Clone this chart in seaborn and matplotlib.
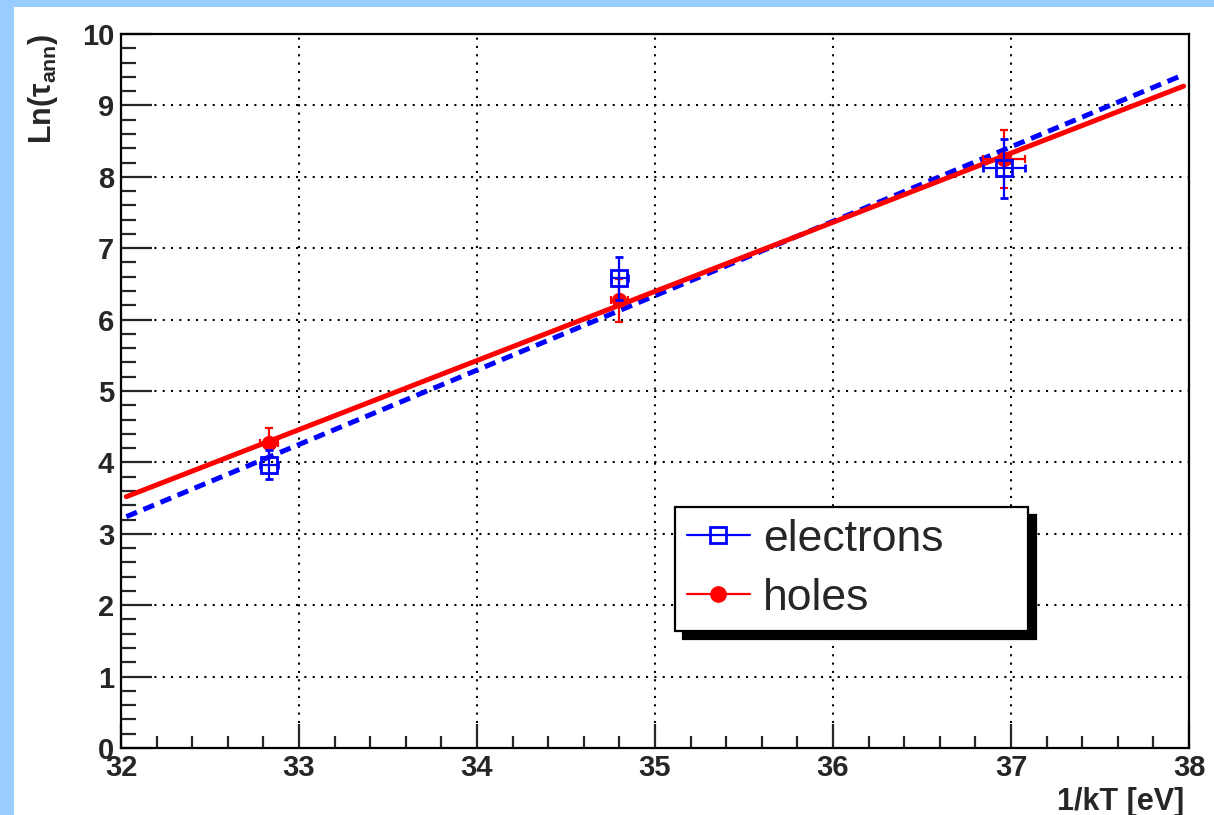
import numpy as np
import pandas as pd
import seaborn as sns
from matplotlib import pyplot as plt
from matplotlib.lines import Line2D
from matplotlib.patches import Rectangle
from matplotlib.ticker import MultipleLocator

# measured points: 1/kT [eV] and Ln(tau_ann)
inv_kt = [32.83, 34.80, 36.96]
el_ln_tau = [3.97, 6.58, 8.12]
el_yerr = [0.20, 0.30, 0.41]
el_xerr = [0.05, 0.05, 0.12]
ho_ln_tau = [4.27, 6.27, 8.25]
ho_yerr = [0.21, 0.30, 0.41]
ho_xerr = [0.05, 0.05, 0.12]

# fitted lines, values at the ends of the fit range
fit_x = [32.03, 37.97]
el_fit_y = [3.24, 9.43]
ho_fit_y = [3.52, 9.27]

sns.set_style('ticks')
plt.rcParams['font.family'] = ['Liberation Sans', 'DejaVu Sans']
plt.rcParams['mathtext.fontset'] = 'custom'
plt.rcParams['mathtext.rm'] = 'Liberation Sans:bold'
plt.rcParams['mathtext.it'] = 'Liberation Sans:bold'
plt.rcParams['mathtext.bf'] = 'Liberation Sans:bold'

fig = plt.figure(figsize=(12.14, 8.15), dpi=100, facecolor='#99ccff')
fig.patches.append(Rectangle((14 / 1214, 0), 1, 1 - 7 / 815, transform=fig.transFigure,
                             facecolor='white', edgecolor='none', zorder=-10))
ax = fig.add_axes([121 / 1214, 1 - 748 / 815, 1068 / 1214, 714 / 815])
ax.set_zorder(1)

fits = pd.DataFrame({'x': fit_x * 2, 'y': el_fit_y + ho_fit_y,
                     'carrier': ['electrons'] * 2 + ['holes'] * 2})
sns.lineplot(data=fits[fits.carrier == 'electrons'], x='x', y='y', ax=ax, color='#0000ff',
             linewidth=3.6, linestyle=(0, (2.3, 1.4)), zorder=3)
sns.lineplot(data=fits[fits.carrier == 'holes'], x='x', y='y', ax=ax, color='#ff0000',
             linewidth=3.6, zorder=3)

ax.errorbar(inv_kt, ho_ln_tau, yerr=ho_yerr, xerr=ho_xerr, fmt='o', color='#ff0000',
            markersize=10, elinewidth=1.6, capsize=3, capthick=1.6, zorder=4)
ax.errorbar(inv_kt, el_ln_tau, yerr=el_yerr, xerr=el_xerr, fmt='s', color='#0000ff',
            markerfacecolor='none', markeredgewidth=2.0, markersize=12,
            elinewidth=1.6, capsize=3, capthick=1.6, zorder=5)

ax.set_xlim(32, 38)
ax.set_ylim(0, 10)
ax.xaxis.set_major_locator(MultipleLocator(1))
ax.xaxis.set_minor_locator(MultipleLocator(0.2))
ax.yaxis.set_major_locator(MultipleLocator(1))
ax.yaxis.set_minor_locator(MultipleLocator(0.2))
ax.tick_params(axis='x', which='major', direction='in', length=17, width=1.6, pad=4,
               labelsize=21)
ax.tick_params(axis='x', which='minor', direction='in', length=8.5, width=1.6)
ax.tick_params(axis='y', which='major', direction='in', length=22, width=1.6, pad=5,
               labelsize=21)
ax.tick_params(axis='y', which='minor', direction='in', length=11, width=1.6)
for lab in ax.get_xticklabels() + ax.get_yticklabels():
    lab.set_fontweight('bold')
for sp in ax.spines.values():
    sp.set_linewidth(1.6)
    sp.set_color('black')
ax.grid(True, which='major', color='black', linestyle=(0, (1, 3)), linewidth=1.5)

ax.set_xlabel('1/kT [eV]', fontsize=22, fontweight='bold', loc='right')
ax.xaxis.set_label_coords(0.996, -0.054)
ax.set_ylabel(r'Ln($\tau_{\mathrm{ann}}$)', fontsize=22, fontweight='bold', loc='top')
ax.yaxis.set_label_coords(-0.057, 1.0)

handles = [Line2D([], [], color='#0000ff', linewidth=1.6, marker='s', markersize=12,
                  markerfacecolor='none', markeredgewidth=2.0),
           Line2D([], [], color='#ff0000', linewidth=1.6, marker='o', markersize=11)]
leg = ax.legend(handles, ['electrons', 'holes'], loc='upper left',
                bbox_to_anchor=(0.519, 0.169, 0.330, 0.1685), mode='expand',
                fontsize=32, fancybox=False,
                frameon=True, framealpha=1, edgecolor='black', handlelength=1.4,
                handletextpad=0.3, labelspacing=0.4, borderpad=0.27, borderaxespad=0,
                shadow={'ox': 5.8, 'oy': -5.8, 'color': 'black', 'alpha': 1})
leg.get_frame().set_linewidth(1.6)
leg.set_zorder(10)

fig.savefig('out.png', dpi=100, facecolor=fig.get_facecolor())
